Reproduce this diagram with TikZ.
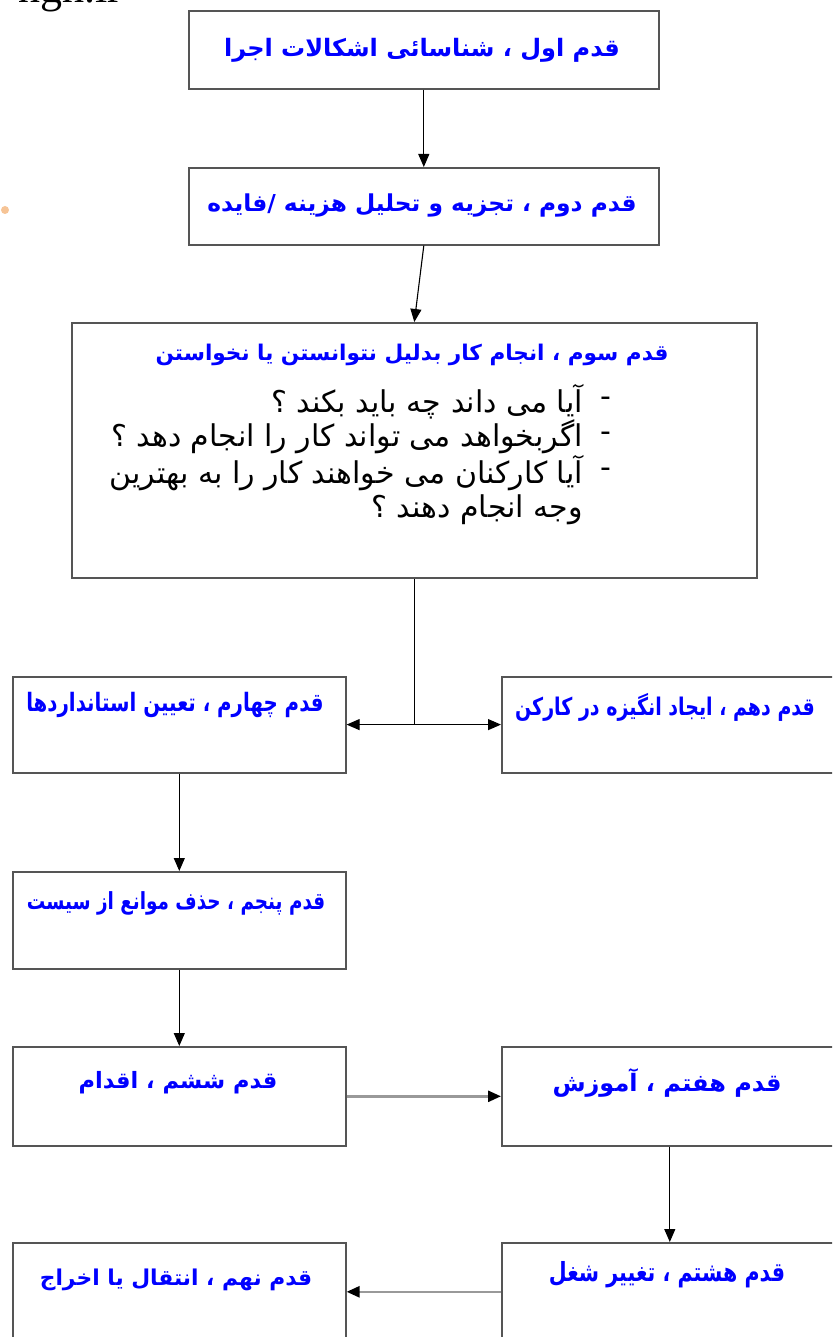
\documentclass[tikz,border=0pt]{standalone}
\usepackage{fontspec}
\usetikzlibrary{arrows.meta}
\TeXXeTstate=1
\setmainfont{Liberation Serif}
\newfontfamily\fa[Script=Arabic]{DejaVu Sans}
\definecolor{stepblue}{RGB}{0,0,255}
\definecolor{frame}{RGB}{85,85,85}
\definecolor{dotorange}{RGB}{246,196,150}
% taller, narrower heading lettering
\newcommand{\tallrtl}[1]{\scalebox{1}[1.28]{\beginR #1\endR}}

\begin{document}
\begin{tikzpicture}[x=1pt,y=-1pt,
  stepbox/.style={draw=frame, line width=1.6pt, fill=white, inner sep=0pt,
    anchor=north west, minimum width=#1},
  stepbox/.default=333,
  steptitle/.style={text=stepblue, inner sep=0pt,
    font=\fa\bfseries\fontsize{#1}{#1}\selectfont},
  steptitle/.default=20,
  item/.style={inner sep=0pt, anchor=east,
    font=\fa\fontsize{30}{32}\selectfont},
  link/.style={draw=black, line width=1.1pt,
    -{Triangle[length=13pt,width=11pt]}},
  greylink/.style={draw=black!40, line width=2.6pt,
    -{Triangle[length=13pt,width=11pt,color=black]}}]

\useasboundingbox (0,0) rectangle (832,1337);
\clip (0,0) rectangle (832,1337);

% site address at the top edge
\node[anchor=base west, font=\fontsize{44}{44}\selectfont, inner sep=0pt]
  (site) at (18,3) {ngh.ir};
\fill[dotorange] (5,210) circle (4);

% boxes
\node[stepbox=470, minimum height=78] (s1) at (188,10) {};
\node[stepbox=470, minimum height=77] (s2) at (188,167) {};
\node[stepbox=685, minimum height=255] (s3) at (71,322) {};
\node[stepbox, minimum height=96] (s4) at (12,676) {};
\node[stepbox=336, minimum height=96] (s10) at (501,676) {};
\node[stepbox, minimum height=97] (s5) at (12,871) {};
\node[stepbox, minimum height=99] (s6) at (12,1046) {};
\node[stepbox=336, minimum height=99] (s7) at (501,1046) {};
\node[stepbox=336, minimum height=98] (s8) at (501,1242) {};
\node[stepbox, minimum height=98] (s9) at (12,1242) {};

% titles
\node[steptitle=24] (t1) at (422,50) {\beginR قدم اول ، شناسائی اشکالات اجرا\endR};
\node[steptitle=23.3] (t2) at (422,205) {\beginR قدم دوم ، تجزیه و تحلیل هزینه /فایده\endR};
\node[steptitle=21.6] (t3) at (412,355) {\beginR قدم سوم ، انجام کار بدلیل نتوانستن یا نخواستن\endR};
\node[steptitle=19.8] (t4) at (175,705) {\tallrtl{قدم چهارم ، تعیین استانداردها}};
\node[steptitle=19] (t10) at (665,707) {\tallrtl{قدم دهم ، ایجاد انگیزه در کارکن}};
\node[steptitle=18.4] (t5) at (176,903) {\tallrtl{قدم پنجم ، حذف موانع از سیست}};
\node[steptitle=22.5] (t6) at (178,1083) {\beginR قدم ششم ، اقدام\endR};
\node[steptitle=24] (t7) at (667,1083) {\beginR قدم هفتم ، آموزش\endR};
\node[steptitle=20.6] (t8) at (667,1275) {\tallrtl{قدم هشتم ، تغییر شغل}};
\node[steptitle=21.8] (t9) at (176,1280) {\beginR قدم نهم ، انتقال یا اخراج\endR};

% questions of the third step
\foreach \yy/\nm in {402/b1,437/b2,473/b3}
  \node[item, anchor=center] (\nm) at (606,\yy) {-};
\node[item] (q1) at (583,402) {\beginR آیا می داند چه باید بکند ؟\endR};
\node[item] (q2) at (583,437) {\beginR اگربخواهد می تواند کار را انجام دهد ؟\endR};
\node[item] (q3) at (583,473) {\beginR آیا کارکنان می خواهند کار را به بهترین\endR};
\node[item] (q4) at (583,510) {\beginR وجه انجام دهند ؟\endR};

% connectors
\draw[link] (s1.south) -- (s2.north);
\draw[link] (s2.south) -- (s3.north);
\coordinate (fork) at ([yshift=-146pt]s3.south);
\draw[line width=1.1pt] (s3.south) -- (fork);
\draw[link] (fork) -- (s4.east |- fork);
\draw[link] (fork) -- (s10.west |- fork);
\draw[link] (s4.south) -- (s5.north);
\draw[link] (s5.south) -- (s6.north);
\draw[greylink] (s6.east) -- (s7.west);
\draw[link] (s7.south) -- (s8.north);
\draw[greylink] (s8.west) -- (s9.east);
\end{tikzpicture}
\end{document}
